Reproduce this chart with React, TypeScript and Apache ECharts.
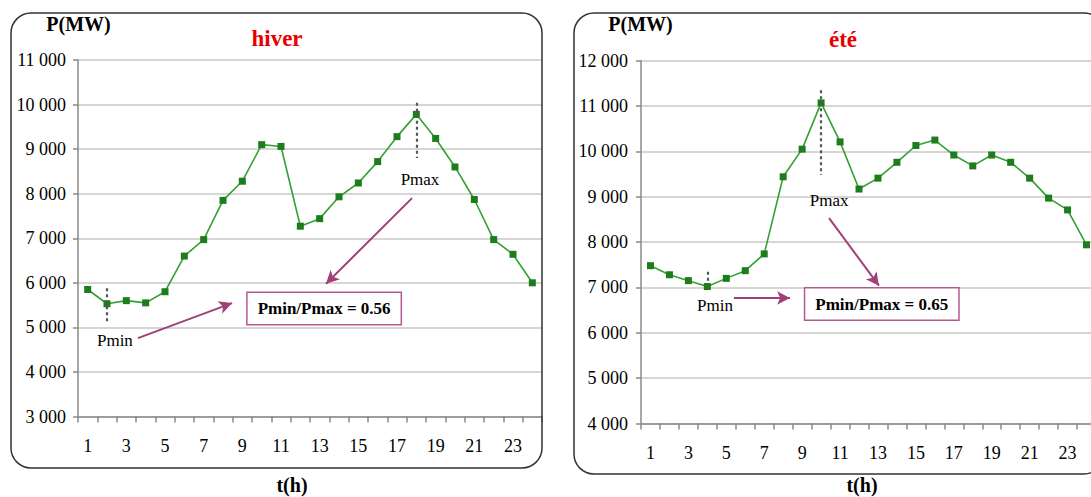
import React, { useEffect, useRef } from "react";
import * as echarts from "echarts";

const hours = ["1", "2", "3", "4", "5", "6", "7", "8", "9", "10", "11", "12", "13", "14", "15", "16", "17", "18", "19", "20", "21", "22", "23", "24"];
const hiverMW = [5850, 5530, 5600, 5550, 5800, 6600, 6970, 7850, 8280, 9100, 9060, 7270, 7440, 7930, 8240, 8720, 9280, 9780, 9240, 8600, 7870, 6970, 6640, 6000];
const eteMW = [7480, 7280, 7150, 7020, 7200, 7370, 7740, 9440, 10050, 11070, 10210, 9170, 9410, 9760, 10130, 10250, 9920, 9680, 9920, 9760, 9410, 8970, 8710, 7940];
const hiverTicks = ["3 000", "4 000", "5 000", "6 000", "7 000", "8 000", "9 000", "10 000", "11 000"];
const eteTicks = ["4 000", "5 000", "6 000", "7 000", "8 000", "9 000", "10 000", "11 000", "12 000"];
const titles = ["hiver", "été"];
const ratioTexts = ["Pmin/Pmax = 0.56", "Pmin/Pmax = 0.65"];

const SERIF = "Liberation Serif";
const GREEN_LINE = "#34a034";
const GREEN_MARK = "#1d7d1d";
const ARROW = "#a0407a";
const BOX = "#b55a90";

function textMark(coord: number[], text: string, extra: any = {}) {
  return {
    coord,
    symbol: "rect",
    symbolSize: 1,
    itemStyle: { color: "rgba(0,0,0,0)" },
    label: {
      show: true,
      position: "inside",
      formatter: text,
      color: "#000",
      fontFamily: SERIF,
      fontSize: 17,
      align: "center",
      verticalAlign: "middle",
      ...extra,
    },
  };
}

function boxMark(coord: number[], text: string) {
  return textMark(coord, text, {
    fontWeight: "bold",
    backgroundColor: "#ffffff",
    borderColor: BOX,
    borderWidth: 1.5,
    padding: [6, 10, 6, 10],
    lineHeight: 19,
  });
}

function arrowLine(a: number[], b: number[]) {
  return [
    { coord: a, symbol: "none" },
    { coord: b, symbol: "arrow", symbolSize: [10, 13] },
  ];
}

function dashLine(a: number[], b: number[]) {
  return [
    { coord: a, symbol: "none", lineStyle: { color: "#555", type: [3, 3], width: 2.2 } },
    { coord: b, symbol: "none" },
  ];
}

export default function App() {
  const ref = useRef<HTMLDivElement>(null);
  useEffect(() => {
    document.body.style.margin = "0";
    const chart = echarts.init(ref.current!, undefined, { renderer: "svg" });

    const axisLabelStyle = { fontFamily: SERIF, fontSize: 18, color: "#000" };
    const catAxis = (gridIndex: number, margin: number) => ({
      type: "category",
      gridIndex,
      data: hours,
      boundaryGap: true,
      axisLine: { lineStyle: { color: "#8a8a8a", width: 1.5 } },
      axisTick: { show: true, interval: 0, alignWithLabel: false, length: 6, lineStyle: { color: "#8a8a8a", width: 1.5 } },
      axisLabel: { ...axisLabelStyle, interval: 1, margin },
      splitLine: { show: false },
    });
    const hiddenX = (gridIndex: number) => ({
      type: "value",
      gridIndex,
      min: 0.5,
      max: 24.5,
      show: false,
    });
    const valAxis = (gridIndex: number, min: number, max: number, labels: string[], margin: number) => ({
      type: "value",
      gridIndex,
      min,
      max,
      interval: 1000,
      axisLine: { show: true, lineStyle: { color: "#8a8a8a", width: 1.5 } },
      axisTick: { show: true, length: 5, lineStyle: { color: "#8a8a8a", width: 1.5 } },
      axisLabel: { ...axisLabelStyle, margin, formatter: (v: number) => labels[Math.round((v - min) / 1000)] },
      splitLine: { show: true, lineStyle: { color: "#c9c9c9", width: 1.5 } },
    });

    const lineSeries = (xi: number, yi: number, data: number[]) => ({
      type: "line",
      xAxisIndex: xi,
      yAxisIndex: yi,
      data,
      symbol: "rect",
      symbolSize: 7,
      lineStyle: { color: GREEN_LINE, width: 1.6 },
      itemStyle: { color: GREEN_MARK },
      z: 3,
    });

    const annot = (xi: number, yi: number, dummy: number, lines: any[], points: any[]) => ({
      type: "scatter",
      xAxisIndex: xi,
      yAxisIndex: yi,
      data: [[1, dummy]],
      symbolSize: 0,
      silent: true,
      z: 4,
      markLine: {
        silent: true,
        animation: false,
        label: { show: false },
        lineStyle: { color: ARROW, width: 2, type: "solid" },
        data: lines,
      },
      markPoint: { silent: true, animation: false, data: points },
    });

    const boldText = (x: number, y: number, text: string, fill = "#000", size = 20) => ({
      type: "text",
      x,
      y,
      style: {
        text,
        fill,
        fontFamily: SERIF,
        fontSize: size,
        fontWeight: "bold",
        align: "center",
        verticalAlign: "middle",
        textAlign: "center",
        textVerticalAlign: "middle",
      },
      z: 10,
    });

    chart.setOption({
      animation: false,
      backgroundColor: "#ffffff",
      textStyle: { fontFamily: SERIF },
      grid: [
        { left: 78, top: 60, width: 464, height: 356.5, containLabel: false },
        { left: 641, top: 60.7, width: 455, height: 362.8, containLabel: false },
      ],
      xAxis: [catAxis(0, 20), catAxis(1, 20), hiddenX(0), hiddenX(1)],
      yAxis: [valAxis(0, 3000, 11000, hiverTicks, 12), valAxis(1, 4000, 12000, eteTicks, 13)],
      series: [
        lineSeries(0, 0, hiverMW),
        lineSeries(1, 1, eteMW),
        annot(
          2,
          0,
          hiverMW[0],
          [
            dashLine([18, 10040], [18, 8800]),
            dashLine([2, 5880], [2, 5100]),
            arrowLine([17.78, 7900], [13.33, 5980]),
            arrowLine([3.6, 4760], [8.47, 5545]),
          ],
          [
            textMark([18.19, 8310], "Pmax"),
            textMark([2.41, 4716], "Pmin"),
            boxMark([13.23, 5423], ratioTexts[0]),
          ]
        ),
        annot(
          3,
          1,
          eteMW[0],
          [
            dashLine([10, 11350], [10, 9480]),
            dashLine([4, 7345], [4, 7095]),
            arrowLine([10.42, 8530], [13.05, 7040]),
            arrowLine([5.4, 6767], [8.36, 6767]),
          ],
          [
            textMark([10.42, 8928], "Pmax"),
            textMark([4.4, 6613], "Pmin"),
            boxMark([13.2, 6635], ratioTexts[1]),
          ]
        ),
      ],
      graphic: [
        {
          type: "rect",
          shape: { x: 11, y: 13, width: 531, height: 455, r: 20 },
          style: { fill: "none", stroke: "#333", lineWidth: 1.5 },
          z: 1,
          silent: true,
        },
        {
          type: "rect",
          shape: { x: 574, y: 13, width: 530, height: 461, r: 20 },
          style: { fill: "none", stroke: "#333", lineWidth: 1.5 },
          z: 1,
          silent: true,
        },
        boldText(78.5, 24, "P(MW)"),
        boldText(640.5, 24, "P(MW)"),
        boldText(277, 38, titles[0], "#e80000", 23),
        boldText(843, 39, titles[1], "#e80000", 23),
        boldText(292, 485, "t(h)"),
        boldText(862, 485, "t(h)"),
      ],
    });
    return () => chart.dispose();
  }, []);
  return (
    <div style={{ width: 1091, height: 497, overflow: "hidden", position: "relative" }}>
      <div ref={ref} style={{ width: 1110, height: 497 }} />
    </div>
  );
}
